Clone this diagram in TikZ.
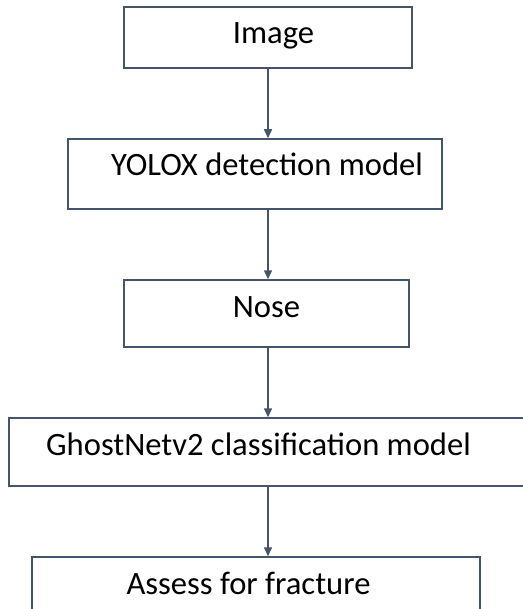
\documentclass[tikz,border=0pt]{standalone}
\usepackage{fontspec}
\setmainfont{Carlito}
\usetikzlibrary{arrows.meta, positioning, chains}
\definecolor{slate}{HTML}{44546A}

\begin{document}
\begin{tikzpicture}[
    node distance=34.75pt,
    start chain=going below,
    every node/.style={font=\fontsize{16.3pt}{19pt}\selectfont},
    stepbox/.style={draw=slate, line width=0.75pt, inner sep=0pt, text height=18.5pt, align=center},
    arrow/.style={draw=slate, line width=0.75pt, -{Triangle[width=4pt,length=4.5pt]}}
]
\useasboundingbox (0,0) rectangle (261.5pt,-304.5pt);
\clip (0,0) rectangle (261.5pt,-304.5pt);

% Nodes
\node (image) [on chain, stepbox, minimum width=144pt, text depth=12pt] at (134pt,-18.75pt) {\hspace*{5.5pt}Image};
\node (yolox) [on chain, stepbox, minimum width=187pt, text depth=16.5pt, xshift=-6.5pt] {\hspace*{12pt}YOLOX detection model};
\node (nose) [on chain, stepbox, minimum width=142.5pt, text depth=15pt, xshift=5.75pt] {Nose};
\node (ghost) [on chain, stepbox, minimum width=264pt, text depth=15.5pt, xshift=3.25pt] {GhostNetv2 classification model\hspace*{14.5pt}};
\node (assess) [on chain, stepbox, minimum width=224pt, text depth=15pt, xshift=-8.5pt] {Assess for fracture\hspace*{7.5pt}};

% Arrows
\draw [arrow] (image.south) -- (image.south |- yolox.north);
\draw [arrow] (yolox.south -| image) -- (image |- nose.north);
\draw [arrow] (nose.south -| image) -- (image |- ghost.north);
\draw [arrow] (ghost.south -| image) -- (image |- assess.north);

\end{tikzpicture}
\end{document}
